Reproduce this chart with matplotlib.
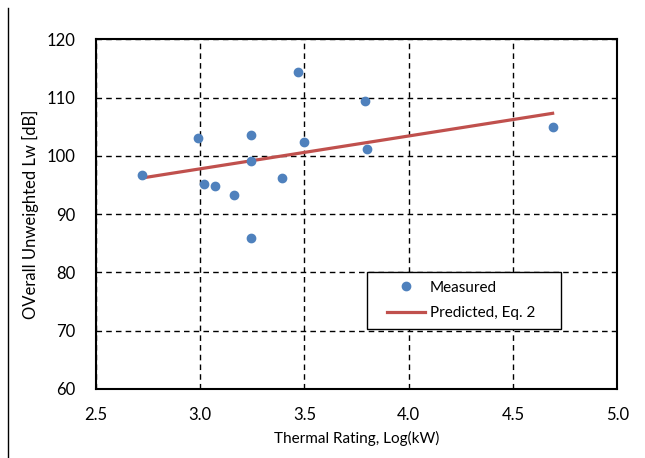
"""
Overall unweighted sound power vs thermal rating, measured and predicted.
"""

import matplotlib
matplotlib.use("Agg")
import matplotlib.pyplot as plt
from matplotlib.lines import Line2D
from matplotlib.patches import Rectangle

# measured points (log kW, dB)
log_kw = [2.72, 2.99, 3.02, 3.07, 3.16, 3.245, 3.245, 3.245,
          3.39, 3.47, 3.50, 3.79, 3.80, 4.69]
lw_db = [96.7, 103.0, 95.2, 94.8, 93.2, 103.6, 99.1, 85.9,
         96.2, 114.4, 102.4, 109.4, 101.2, 105.0]

# predicted line, Eq. 2 (end points)
pred_x = [2.72, 4.69]
pred_y = [96.2, 107.3]

x_ticks = [2.5, 3.0, 3.5, 4.0, 4.5, 5.0]
y_ticks = [60, 70, 80, 90, 100, 110, 120]

plt.rcParams['font.family'] = ['Lato', 'DejaVu Sans']

fig = plt.figure(figsize=(6.45, 4.58), dpi=100)
ax = fig.add_axes([0.1488, 0.1507, 0.8082, 0.7635])

ax.plot(log_kw, lw_db, 'o', color='#4F81BD', markersize=6, label='Measured', zorder=3)
ax.plot(pred_x, pred_y, '-', color='#C0504D', lw=2.3, label='Predicted, Eq. 2', zorder=2)

ax.set_xlim(2.5, 5.0)
ax.set_ylim(60, 120)
ax.set_xticks(x_ticks)
ax.set_yticks(y_ticks)
ax.set_xticklabels([f"{t:.1f}" for t in x_ticks])
ax.tick_params(length=0, labelsize=12)
ax.tick_params(axis='x', pad=13)
ax.tick_params(axis='y', pad=15)

ax.grid(True, color='black', linestyle=(0, (4, 3)), linewidth=1)
for s in ax.spines.values():
    s.set_linewidth(1.5)

ax.set_xlabel('Thermal Rating, Log(kW)', fontsize=11, labelpad=6)
ax.set_ylabel('OVerall Unweighted Lw [dB]', fontsize=12, labelpad=5)

# legend frame drawn separately so the padding matches the original box
ax.add_patch(Rectangle((0.5197, 0.1716), 0.372, 0.163, transform=ax.transAxes,
                       facecolor='white', edgecolor='black', lw=1, zorder=4))
handles = [Line2D([], [], marker='o', color='#4F81BD', linestyle='none', markersize=6),
           Line2D([], [], color='#C0504D', lw=2.3)]
leg = ax.legend(handles, ['Measured', 'Predicted, Eq. 2'], loc='center left',
                bbox_to_anchor=(0.5197 + 20 / 521.5, 0.2531), borderaxespad=0,
                fontsize=11, frameon=False, handlelength=2.5, handletextpad=0.3,
                borderpad=0, labelspacing=0.75)
leg.set_zorder(5)

# thin vertical border line at far left of the figure
fig.add_artist(Line2D([7.5 / 645, 7.5 / 645], [0, 450 / 458],
                      transform=fig.transFigure, color='black', lw=1))

fig.savefig('out.png', dpi=100)
